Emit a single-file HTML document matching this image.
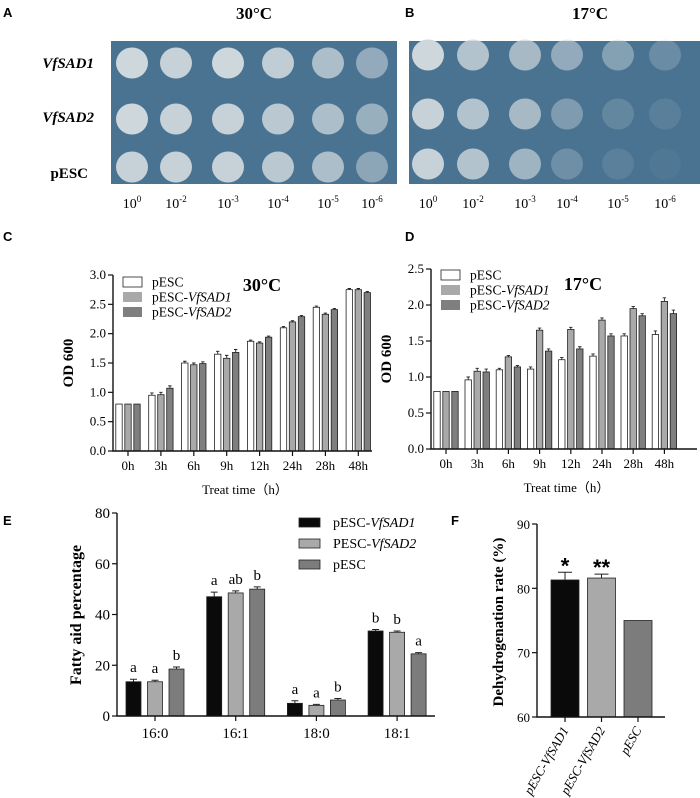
<!DOCTYPE html>
<html><head><meta charset="utf-8"><style>
html,body{margin:0;padding:0;background:#fff}
svg{display:block}
text{font-family:"Liberation Serif",serif}
.sans{font-family:"Liberation Sans",sans-serif;font-weight:bold}
</style></head><body>
<svg id="fig" width="700" height="798" viewBox="0 0 700 798" xmlns="http://www.w3.org/2000/svg">
<g>
<text class="sans" x="3" y="17" font-size="13">A</text>
<text class="sans" x="405" y="17" font-size="13">B</text>
<text class="sans" x="3" y="241" font-size="13">C</text>
<text class="sans" x="405" y="241" font-size="13">D</text>
<text class="sans" x="3" y="525" font-size="13">E</text>
<text class="sans" x="451" y="525" font-size="13">F</text>
</g>
<text x="254" y="19" font-size="17" font-weight="bold" text-anchor="middle">30°C</text>
<text x="590" y="19" font-size="17" font-weight="bold" text-anchor="middle">17°C</text>
<rect x="111" y="41" width="286" height="143" fill="#4a7392"/>
<rect x="409" y="41" width="291" height="143" fill="#4a7392"/>
<g font-size="15" font-weight="bold" text-anchor="end">
<text x="94" y="68" font-style="italic">VfSAD1</text>
<text x="94" y="122" font-style="italic">VfSAD2</text>
<text x="88" y="178">pESC</text>
</g>
<g id="spots"></g>
<g id="dil" font-size="14" text-anchor="middle"></g>
<g id="chartC"></g>
<g id="chartD"></g>
<g id="chartE"></g>
<g id="chartF"></g>
</svg>
<script>
const NS="http://www.w3.org/2000/svg";
function mk(p,tag,a,txt){const e=document.createElementNS(NS,tag);for(const k in a)e.setAttribute(k,a[k]);if(txt!==undefined)e.textContent=txt;p.appendChild(e);return e;}

// Spot assay
const dilutions=["0","-2","-3","-4","-5","-6"];
const spotColsA=[132,176,228,278,328,372];
const spotColsB=[428,473,525,567,618,665];
const spotRowsA=[63,119,167];
const spotRowsB=[55,114,164];
const growthA=[[1,0.95,1,0.9,0.75,0.55],[1,0.95,0.95,0.85,0.75,0.6],[0.95,0.95,0.95,0.85,0.75,0.5]];
const growthB=[[1,0.8,0.7,0.55,0.45,0.25],[0.95,0.8,0.7,0.4,0.2,0.12],[0.95,0.8,0.65,0.28,0.13,0.05]];
const spots=document.getElementById('spots');
function drawSpots(cols,rows,g){
 rows.forEach((y,ri)=>cols.forEach((x,ci)=>{
  const c=mk(spots,'ellipse',{cx:x,cy:y,rx:16,ry:15.5,fill:'#cdd7dc','fill-opacity':g[ri][ci]});
  
  
 }));
}
drawSpots(spotColsA,spotRowsA,growthA);
drawSpots(spotColsB,spotRowsB,growthB);
const dil=document.getElementById('dil');
[spotColsA,spotColsB].forEach(cols=>cols.forEach((x,i)=>{
 const t=mk(dil,'text',{x:x,y:208});
 
 
 t.textContent='10';
 mk(t,'tspan',{dy:-6,'font-size':9},dilutions[i]);
}));

// Growth charts
const times=["0h","3h","6h","9h","12h","24h","28h","48h"];
const c30_pesc=[0.8,0.95,1.5,1.65,1.87,2.1,2.45,2.75];
const c30_sad1=[0.8,0.96,1.47,1.58,1.84,2.2,2.33,2.75];
const c30_sad2=[0.8,1.07,1.49,1.68,1.94,2.29,2.41,2.7];
const c30_err=[0,0.04,0.03,0.05,0.02,0.02,0.02,0.02];
const c17_pesc=[0.8,0.96,1.1,1.11,1.24,1.29,1.57,1.59];
const c17_sad1=[0.8,1.08,1.28,1.65,1.66,1.79,1.95,2.05];
const c17_sad2=[0.8,1.07,1.14,1.36,1.39,1.57,1.85,1.88];
const c17_err=[0,0.04,0.02,0.03,0.03,0.03,0.03,0.05];
const ticksC=[0,0.5,1.0,1.5,2.0,2.5,3.0];
const ticksD=[0,0.5,1.0,1.5,2.0,2.5];
const seriesFill=['#ffffff','#a9a9a9','#7f7f7f'];
const seriesNames=['pESC','pESC-','pESC-'];
const seriesItal=['','VfSAD1','VfSAD2'];

function growth(id,cfg,series,err,ticks,title){
 const g=document.getElementById(id);
 const y=v=>cfg.y0-(v-ticks[0])/(ticks[ticks.length-1]-ticks[0])*(cfg.y0-cfg.y1);
 const x=i=>cfg.x0+i*cfg.step;
 series.forEach((s,si)=>s.forEach((v,i)=>{
  const bx=x(i)+(si-1)*9-3.2;
  const r=mk(g,'rect',{x:bx,y:y(v),width:6.4,height:cfg.y0-y(v),fill:seriesFill[si],stroke:'#222','stroke-width':0.8});
  
  
  if(err[i]>0){const e=mk(g,'path',{d:`M${bx+3.2} ${y(v)} V${y(v+err[i])} M${bx+1.5} ${y(v+err[i])} H${bx+4.9}`,stroke:'#222','stroke-width':0.9,fill:'none'});
  
  }
 }));
 const ax=mk(g,'path',{d:`M${cfg.x0-15} ${cfg.y1} V${cfg.y0} H${cfg.xe}`,stroke:'#111','stroke-width':1.4,fill:'none'});
 
 
 ticks.forEach(t=>{
  mk(g,'path',{d:`M${cfg.x0-20} ${y(t)} H${cfg.x0-15}`,stroke:'#111','stroke-width':1.2});
  const tl=mk(g,'text',{x:cfg.x0-22,y:y(t)+4,'font-size':13,'text-anchor':'end'},t.toFixed(1));
  
  
 });
 times.forEach((t,i)=>{
  mk(g,'path',{d:`M${x(i)} ${cfg.y0} V${cfg.y0+5}`,stroke:'#111','stroke-width':1.2});
  const tl=mk(g,'text',{x:x(i),y:cfg.y0+19,'font-size':13,'text-anchor':'middle'},t);
  
  
 });
 const yl=mk(g,'text',{x:0,y:0,'font-size':15,'font-weight':'bold','text-anchor':'middle',transform:`translate(${cfg.x0-55},${(cfg.y0+cfg.y1)/2}) rotate(-90)`},'OD 600');
 
 
 const xl=mk(g,'text',{x:(cfg.x0+cfg.xe)/2-5,y:cfg.y0+43,'font-size':13,'text-anchor':'middle'},'Treat time（h）');
 
 
 const tt=mk(g,'text',{x:cfg.tx,y:cfg.ty,'font-size':18,'font-weight':'bold','text-anchor':'middle'},title);
 
 
 [0,1,2].forEach(si=>{
  const ly=cfg.ly+si*15;
  const lb=mk(g,'rect',{x:cfg.lx,y:ly-5,width:19,height:10,fill:seriesFill[si],stroke:si?'none':'#222','stroke-width':0.8});
  
  
  const lt=mk(g,'text',{x:cfg.lx+29,y:ly+4.5,'font-size':13.5},seriesNames[si]);
  
  
  if(seriesItal[si])mk(lt,'tspan',{'font-style':'italic'},seriesItal[si]);
 });
}
growth('chartC',{x0:128,step:32.9,y0:451,y1:275,xe:372,lx:123,ly:282,tx:262,ty:291},[c30_pesc,c30_sad1,c30_sad2],c30_err,ticksC,'30°C');
growth('chartD',{x0:446,step:31.2,y0:449,y1:269,xe:697,lx:441,ly:275,tx:583,ty:290},[c17_pesc,c17_sad1,c17_sad2],c17_err,ticksD,'17°C');

// Fatty acid chart E
const faCats=["16:0","16:1","18:0","18:1"];
const faSad1=[13.5,47,5,33.5];
const faSad2=[13.5,48.5,4.2,33];
const faPesc=[18.5,50,6.3,24.5];
const faErr1=[1,1.8,1,0.6];
const faErr2=[0.6,0.8,0.4,0.5];
const faErr3=[0.8,0.9,0.6,0.5];
const faLetters=[["a","a","b"],["a","ab","b"],["a","a","b"],["b","b","a"]];
const faTicks=[0,20,40,60,80];
(function(){
 const g=document.getElementById('chartE');
 const X0=117,Y0=716,Y1=513,XE=435;
 const y=v=>Y0-v/80*(Y0-Y1);
 const cx=i=>155+i*80.7;
 const fills=['#0a0a0a','#a9a9a9','#7c7c7c'];
 const vals=[faSad1,faSad2,faPesc],errs=[faErr1,faErr2,faErr3];
 vals.forEach((s,si)=>s.forEach((v,i)=>{
  const bx=cx(i)+(si-1)*21.5-7.5;
  const r=mk(g,'rect',{x:bx,y:y(v),width:15,height:Y0-y(v),fill:fills[si],stroke:'#222','stroke-width':0.8});
  
  
  const ye=y(v+errs[si][i]);
  mk(g,'path',{d:`M${bx+7.5} ${y(v)} V${ye} M${bx+4} ${ye} H${bx+11}`,stroke:'#222','stroke-width':1,fill:'none'});
  const lt=mk(g,'text',{x:bx+7.5,y:ye-7,'font-size':15,'text-anchor':'middle'},faLetters[i][si]);
  
  
 }));
 const ax=mk(g,'path',{d:`M${X0} ${Y1} V${Y0} H${XE}`,stroke:'#111','stroke-width':1.4,fill:'none'});
 
 
 faTicks.forEach(t=>{
  mk(g,'path',{d:`M${X0-5} ${y(t)} H${X0}`,stroke:'#111','stroke-width':1.2});
  const tl=mk(g,'text',{x:X0-7,y:y(t)+5,'font-size':15,'text-anchor':'end'},String(t));
  
  
 });
 faCats.forEach((c,i)=>{
  mk(g,'path',{d:`M${cx(i)} ${Y0} V${Y0+5}`,stroke:'#111','stroke-width':1.2});
  const tl=mk(g,'text',{x:cx(i),y:Y0+22,'font-size':15,'text-anchor':'middle'},c);
  
  
 });
 const yl=mk(g,'text',{x:0,y:0,'font-size':16,'font-weight':'bold','text-anchor':'middle',transform:`translate(81,615) rotate(-90)`},'Fatty aid percentage');
 
 
 const names=['pESC-','PESC-','pESC'],ital=['VfSAD1','VfSAD2',''];
 [0,1,2].forEach(si=>{
  const ly=522+si*21;
  const lb=mk(g,'rect',{x:299,y:ly-4,width:21,height:9,fill:fills[si],stroke:'#222','stroke-width':0.8});
  
  
  const lt=mk(g,'text',{x:333,y:ly+5,'font-size':14},names[si]);
  
  
  if(ital[si])mk(lt,'tspan',{'font-style':'italic'},ital[si]);
 });
})();

// Dehydrogenation chart F
const dhCats=["pESC-VfSAD1","pESC-VfSAD2","pESC"];
const dhVals=[81.3,81.6,75];
const dhErr=[1.2,0.6,0];
const dhStars=["*","**",""];
const dhTicks=[60,70,80,90];
(function(){
 const g=document.getElementById('chartF');
 const X0=537,Y0=717,Y1=524,XE=665;
 const y=v=>Y0-(v-60)/30*(Y0-Y1);
 const cx=i=>565+i*36.5;
 const fills=['#0a0a0a','#a9a9a9','#7c7c7c'];
 dhVals.forEach((v,i)=>{
  const r=mk(g,'rect',{x:cx(i)-14,y:y(v),width:28,height:Y0-y(v),fill:fills[i],stroke:'#222','stroke-width':0.8});
  
  
  const ye=y(v+dhErr[i]);
  if(dhErr[i]>0){mk(g,'path',{d:`M${cx(i)} ${y(v)} V${ye} M${cx(i)-7} ${ye} H${cx(i)+7}`,stroke:'#222','stroke-width':1,fill:'none'});}
  if(dhStars[i]){const st=mk(g,'text',{x:cx(i),y:ye+1,'font-size':22,'text-anchor':'middle',class:'sans'},dhStars[i]);
  
  }
 });
 const ax=mk(g,'path',{d:`M${X0} ${Y1} V${Y0} H${XE}`,stroke:'#111','stroke-width':1.4,fill:'none'});
 
 
 dhTicks.forEach(t=>{
  mk(g,'path',{d:`M${X0-5} ${y(t)} H${X0}`,stroke:'#111','stroke-width':1.2});
  const tl=mk(g,'text',{x:X0-7,y:y(t)+5,'font-size':13,'text-anchor':'end'},String(t));
  
  
 });
 dhCats.forEach((c,i)=>{
  mk(g,'path',{d:`M${cx(i)} ${Y0} V${Y0+5}`,stroke:'#111','stroke-width':1.2});
  const tl=mk(g,'text',{x:0,y:0,'font-size':13,'font-style':'italic','text-anchor':'end',transform:`translate(${cx(i)+4},${Y0+13}) rotate(-60)`},c);
  
  
 });
 const yl=mk(g,'text',{x:0,y:0,'font-size':15,'font-weight':'bold','text-anchor':'middle',transform:`translate(503,622) rotate(-90)`},'Dehydrogenation rate (%)');
 
 
})();
</script>
</body></html>
